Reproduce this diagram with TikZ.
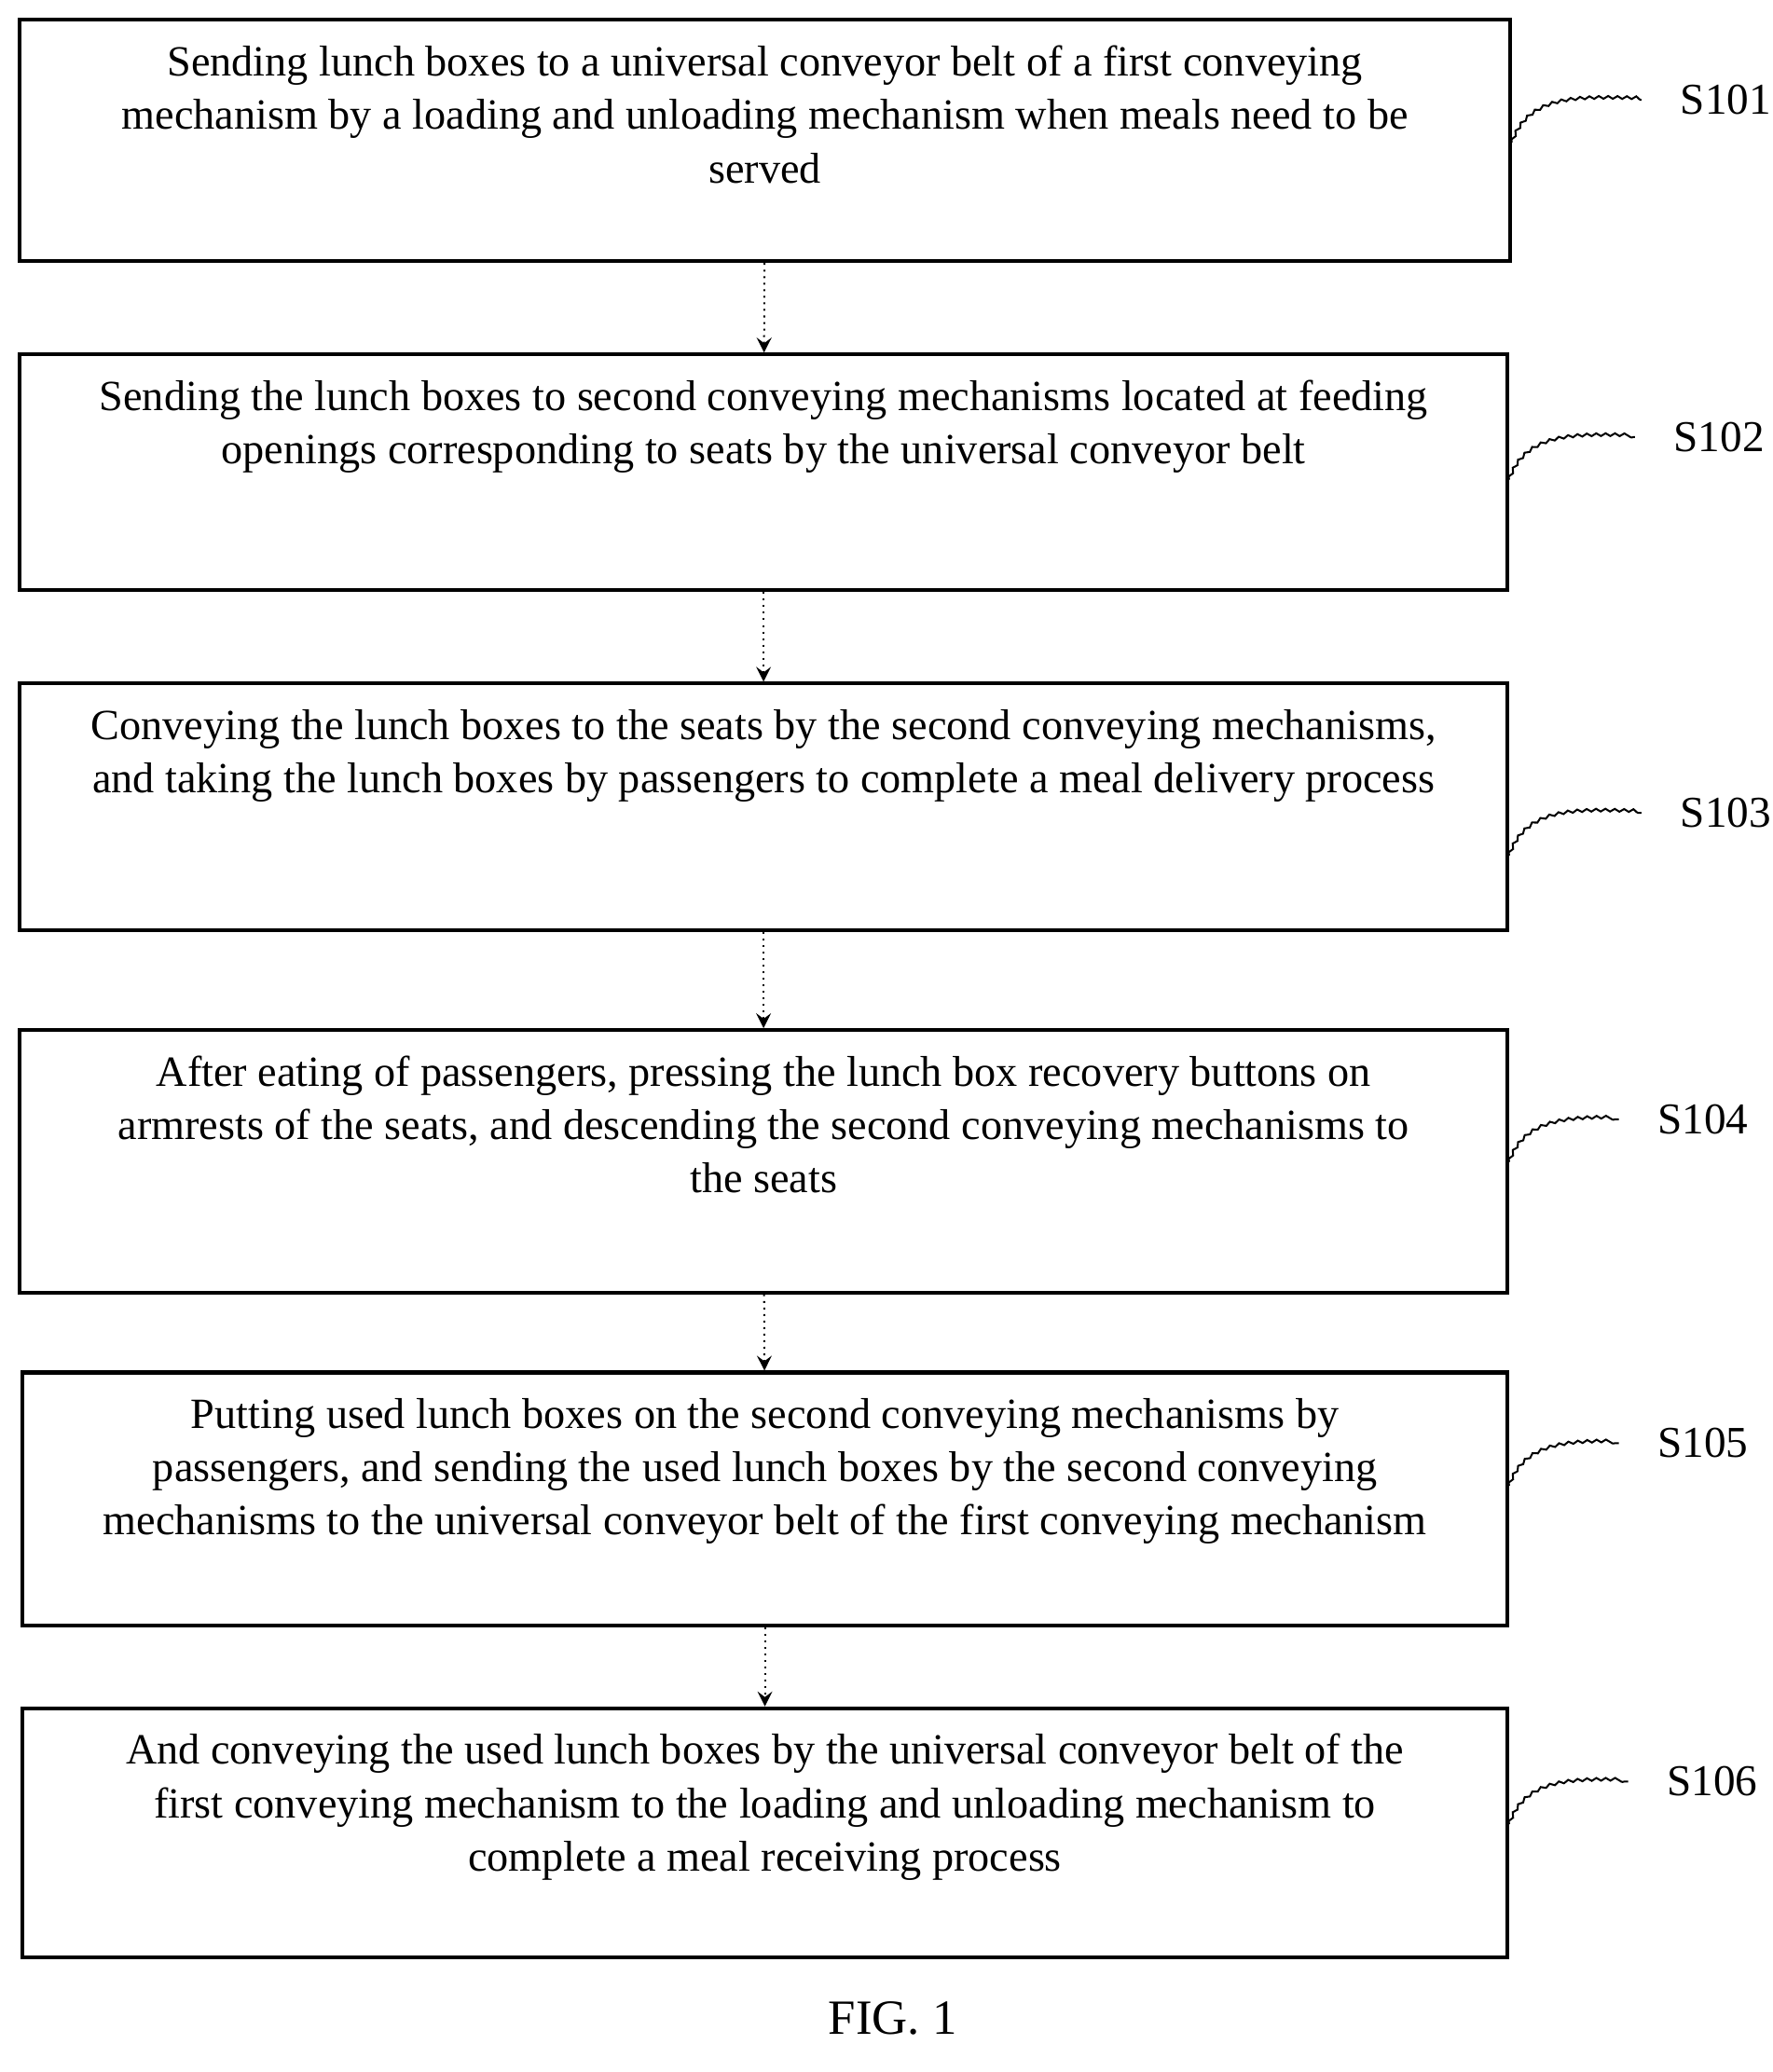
\documentclass[tikz,border=0pt]{standalone}
\usepackage{fontspec}
\setmainfont{Liberation Serif}
\usetikzlibrary{decorations.pathmorphing}
\begin{document}
\begin{tikzpicture}
    \tikzset{
        box/.style={draw, line width=0.8pt, inner sep=0pt},
        txt/.style={anchor=north, align=center, font=\fontsize{9.2}{11.4}\selectfont, inner sep=0pt},
        steplabel/.style={font=\fontsize{9.4}{11}\selectfont, inner sep=1pt},
        wave/.style={decorate, decoration={snake, amplitude=0.3pt, segment length=2pt}, thin},
        flow/.style={->, >=stealth, thin, densely dotted}
    }
    \useasboundingbox (0,0) rectangle (13.30,-15.55);

    \node (B1) at (5.74,-1.055) [box, minimum width=11.18cm, minimum height=1.81cm] {};
    \node (B2) at (5.73,-3.545) [box, minimum width=11.16cm, minimum height=1.77cm] {};
    \node (B3) at (5.73,-6.055) [box, minimum width=11.16cm, minimum height=1.85cm] {};
    \node (B4) at (5.73,-8.715) [box, minimum width=11.16cm, minimum height=1.97cm] {};
    \node (B5) at (5.74,-11.25) [box, minimum width=11.14cm, minimum height=1.90cm] {};
    \node (B6) at (5.74,-13.755) [box, minimum width=11.14cm, minimum height=1.87cm] {};

    \node (T1) at ([yshift=-0.2cm]B1.north) [txt] {Sending lunch boxes to a universal conveyor belt of a first conveying\\mechanism by a loading and unloading mechanism when meals need to be\\served};
    \node (T2) at ([yshift=-0.2cm]B2.north) [txt] {Sending the lunch boxes to second conveying mechanisms located at feeding\\openings corresponding to seats by the universal conveyor belt};
    \node (T3) at ([yshift=-0.2cm]B3.north) [txt] {Conveying the lunch boxes to the seats by the second conveying mechanisms,\\and taking the lunch boxes by passengers to complete a meal delivery process};
    \node (T4) at ([yshift=-0.2cm]B4.north) [txt] {After eating of passengers, pressing the lunch box recovery buttons on\\armrests of the seats, and descending the second conveying mechanisms to\\the seats};
    \node (T5) at ([yshift=-0.2cm]B5.north) [txt] {Putting used lunch boxes on the second conveying mechanisms by\\passengers, and sending the used lunch boxes by the second conveying\\mechanisms to the universal conveyor belt of the first conveying mechanism};
    \node (T6) at ([yshift=-0.2cm]B6.north) [txt] {And conveying the used lunch boxes by the universal conveyor belt of the\\first conveying mechanism to the loading and unloading mechanism to\\complete a meal receiving process};

    \node (S1) at (12.95,-0.75) [steplabel] {S101};
    \node (S2) at (12.90,-3.28) [steplabel] {S102};
    \node (S3) at (12.95,-6.10) [steplabel] {S103};
    \node (S4) at (12.78,-8.40) [steplabel] {S104};
    \node (S5) at (12.78,-10.83) [steplabel] {S105};
    \node (S6) at (12.85,-13.37) [steplabel] {S106};

    \node (FIG) at (6.70,-15.15) [font=\fontsize{10.5}{12}\selectfont] {FIG. 1};

    % steps
    \draw[flow] (B1) -- (B2);
    \draw[flow] (B2) -- (B3);
    \draw[flow] (B3) -- (B4);
    \draw[flow] (B4) -- (B5);
    \draw[flow] (B5) -- (B6);

    % labels
    \foreach \i in {1,...,6}
        \draw[wave] ([yshift=-0.32cm]S\i.west -| B\i.east) to[out=70, in=180] ([xshift=-0.25cm]S\i.west);
\end{tikzpicture}
\end{document}
